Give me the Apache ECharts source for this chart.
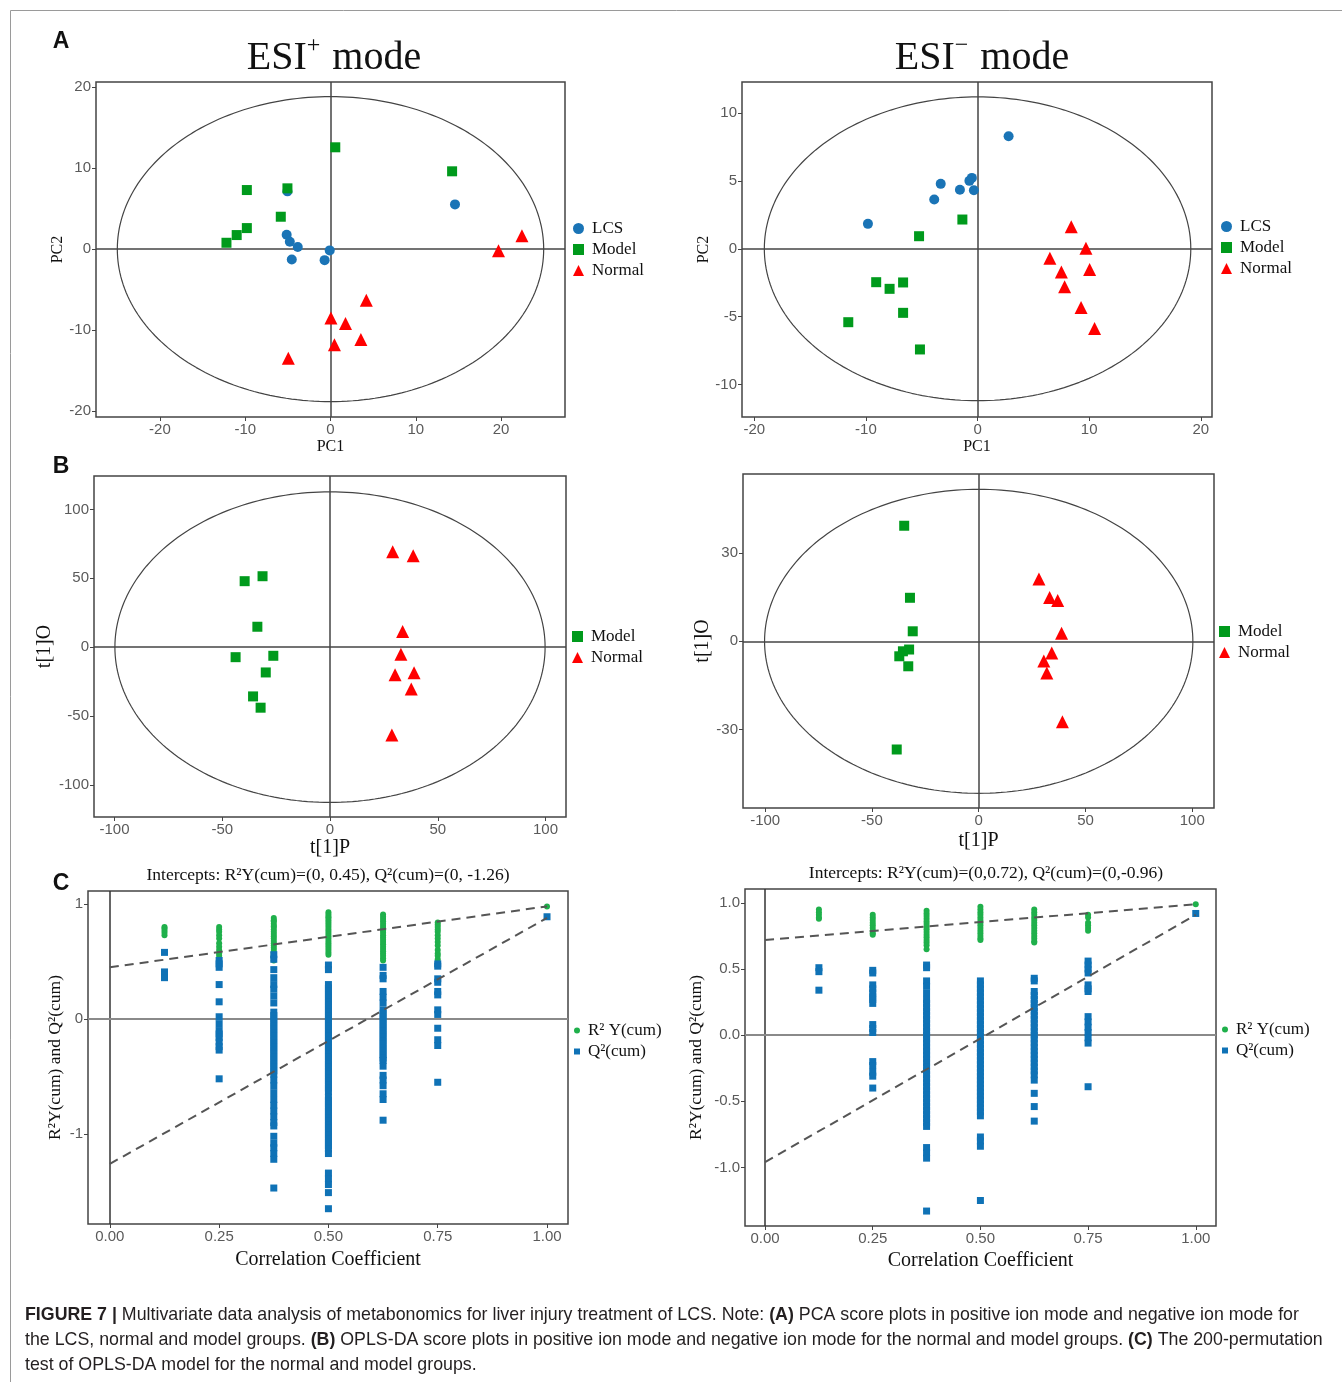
<!DOCTYPE html>
<html><head><meta charset="utf-8">
<script src="https://cdn.jsdelivr.net/npm/echarts@6/dist/echarts.min.js"></script>
<style>html,body{margin:0;padding:0;background:#fff}#c{width:1342px;height:1382px}</style>
</head><body><div id="c"></div>
<script>
// ---------- DATA ----------
// Panel A left (ESI+ PCA): [PC1, PC2]
const aPosLCS = [[-5.05,7.12],[14.6,5.51],[-5.14,1.77],[-4.77,0.91],[-3.84,0.25],[-4.54,-1.28],[-0.09,-0.16],[-0.69,-1.36]];
const aPosModel = [[0.56,12.55],[14.26,9.59],[-9.81,7.28],[-5.05,7.49],[-5.83,3.99],[-9.81,2.59],[-11.0,1.73],[-12.2,0.78]];
const aPosNormal = [[22.45,1.65],[19.7,-0.2],[4.2,-6.3],[0.05,-8.5],[1.76,-9.18],[3.56,-11.15],[0.46,-11.8],[-4.95,-13.46]];
// Panel A right (ESI- PCA)
const aNegLCS = [[2.78,8.30],[-3.30,4.79],[-1.58,4.35],[-0.51,5.23],[-0.73,5.01],[-0.33,4.32],[-3.88,3.64],[-9.82,1.84]];
const aNegModel = [[-1.36,2.16],[-5.24,0.93],[-9.08,-2.46],[-7.88,-2.95],[-6.67,-2.48],[-6.67,-4.72],[-11.58,-5.41],[-5.16,-7.42]];
const aNegNormal = [[8.39,1.62],[9.71,0.05],[6.48,-0.69],[7.51,-1.70],[10.04,-1.52],[7.80,-2.80],[9.27,-4.32],[10.48,-5.87]];
// Panel B left (ESI+ OPLS-DA): [t[1]P, t[1]O]
const bPosModel = [[-39.6,47.9],[-31.3,51.5],[-33.7,14.8],[-43.8,-7.3],[-26.3,-6.3],[-29.8,-18.4],[-35.7,-35.8],[-32.2,-44.0]];
const bPosNormal = [[29.1,69.2],[38.6,66.3],[33.7,11.4],[32.9,-5.1],[30.2,-20.1],[39.0,-18.6],[37.7,-30.5],[28.7,-63.8]];
// Panel B right (ESI- OPLS-DA)
const bNegModel = [[-34.9,39.3],[-32.2,14.8],[-30.9,3.4],[-32.6,-2.8],[-35.5,-3.4],[-37.2,-5.1],[-33.0,-8.5],[-38.4,-36.8]];
const bNegNormal = [[28.2,21.2],[33.2,14.9],[37.0,13.9],[38.8,2.7],[34.2,-4.0],[30.5,-6.7],[31.9,-10.8],[39.2,-27.4]];
// Hotelling ellipse semi-axes [a, b]
const ellipseAxes = [[25.0,18.8],[19.1,11.2],[99.8,112.8],[100.3,51.7]];
// Panel C permutation tests
const permX = [0.125,0.25,0.375,0.5,0.625,0.75,1.0];
const cLeftR2 = [
 [0.80,0.79,0.77,0.75,0.73],
 [0.80,0.78,0.76,0.73,0.70,0.66,0.63,0.60,0.57,0.55],
 [0.88,0.86,0.85,0.83,0.81,0.80,0.78,0.76,0.74,0.72,0.70,0.68,0.66,0.64,0.62,0.60,0.58,0.55,0.53,0.51],
 [0.93,0.91,0.89,0.88,0.86,0.84,0.82,0.80,0.78,0.76,0.74,0.72,0.70,0.68,0.66,0.64,0.62,0.60,0.58,0.56],
 [0.91,0.89,0.87,0.85,0.83,0.81,0.79,0.77,0.75,0.73,0.71,0.69,0.67,0.65,0.63,0.61,0.59,0.57,0.55,0.53,0.51],
 [0.84,0.82,0.80,0.78,0.76,0.73,0.70,0.67,0.64,0.60,0.57,0.55,0.52],
 [0.98]
];
const cLeftQ2 = [
 [0.58,0.41,0.38,0.36],
 [0.51,0.48,0.45,0.30,0.15,0.02,-0.04,-0.10,-0.13,-0.16,-0.20,-0.24,-0.27,-0.52],
 [0.56,0.52,0.43,0.36,0.30,0.26,0.20,0.14,0.06,0.03,0.00,-0.03,-0.06,-0.09,-0.12,-0.15,-0.18,-0.21,-0.24,-0.27,-0.30,-0.33,-0.36,-0.39,-0.42,-0.45,-0.48,-0.53,-0.58,-0.64,-0.70,-0.75,-0.80,-0.85,-0.90,-0.93,-1.02,-1.08,-1.12,-1.17,-1.22,-1.47],
 [0.47,0.43,0.30,0.27,0.24,0.21,0.18,0.15,0.12,0.09,0.06,0.03,0.00,-0.03,-0.06,-0.09,-0.12,-0.15,-0.18,-0.21,-0.24,-0.27,-0.30,-0.33,-0.36,-0.39,-0.42,-0.45,-0.48,-0.51,-0.54,-0.57,-0.60,-0.63,-0.68,-0.71,-0.74,-0.77,-0.80,-0.83,-0.86,-0.89,-0.92,-0.95,-0.98,-1.01,-1.04,-1.07,-1.10,-1.13,-1.17,-1.34,-1.39,-1.44,-1.51,-1.65],
 [0.45,0.38,0.35,0.24,0.19,0.14,0.08,0.05,0.02,-0.01,-0.04,-0.07,-0.10,-0.13,-0.16,-0.19,-0.22,-0.25,-0.28,-0.31,-0.34,-0.36,-0.41,-0.49,-0.53,-0.58,-0.65,-0.70,-0.88],
 [0.48,0.46,0.35,0.32,0.24,0.21,0.08,0.04,-0.08,-0.18,-0.23,-0.55],
 [0.89]
];
const cRightR2 = [
 [0.95,0.93,0.91,0.89,0.88],
 [0.91,0.89,0.87,0.85,0.83,0.81,0.79,0.77,0.76],
 [0.94,0.92,0.90,0.88,0.86,0.84,0.82,0.80,0.78,0.76,0.74,0.72,0.70,0.68,0.65],
 [0.97,0.95,0.93,0.91,0.89,0.87,0.85,0.83,0.81,0.79,0.77,0.75,0.73,0.72],
 [0.95,0.93,0.91,0.89,0.87,0.85,0.83,0.81,0.79,0.77,0.75,0.73,0.71,0.70],
 [0.91,0.89,0.85,0.83,0.81,0.79],
 [0.99]
];
const cRightQ2 = [
 [0.51,0.48,0.34],
 [0.49,0.47,0.38,0.35,0.32,0.29,0.27,0.24,0.08,0.05,0.02,-0.20,-0.23,-0.28,-0.31,-0.40],
 [0.53,0.51,0.41,0.37,0.32,0.27,0.24,0.21,0.18,0.15,0.12,0.09,0.06,0.03,0.00,-0.03,-0.06,-0.09,-0.12,-0.15,-0.18,-0.21,-0.24,-0.27,-0.30,-0.33,-0.36,-0.39,-0.42,-0.45,-0.48,-0.51,-0.54,-0.57,-0.60,-0.63,-0.66,-0.69,-0.85,-0.89,-0.93,-1.33],
 [0.41,0.38,0.35,0.32,0.29,0.26,0.23,0.20,0.17,0.14,0.11,0.08,0.05,0.02,-0.01,-0.04,-0.07,-0.10,-0.13,-0.16,-0.19,-0.22,-0.25,-0.28,-0.31,-0.34,-0.37,-0.40,-0.43,-0.46,-0.49,-0.52,-0.55,-0.58,-0.61,-0.77,-0.80,-0.84,-1.25],
 [0.43,0.41,0.33,0.30,0.27,0.24,0.21,0.18,0.15,0.12,0.09,0.06,0.03,0.00,-0.03,-0.06,-0.09,-0.12,-0.15,-0.18,-0.21,-0.24,-0.27,-0.30,-0.34,-0.44,-0.54,-0.65],
 [0.56,0.53,0.50,0.47,0.38,0.35,0.33,0.14,0.10,0.06,0.02,-0.02,-0.06,-0.39],
 [0.92]
];
// regression lines [value at x=0, value at x=1]
const cLeftR2Line = [0.45,0.98], cLeftQ2Line = [-1.26,0.88];
const cRightR2Line = [0.72,0.99], cRightQ2Line = [-0.96,0.91];
// tick labels
const ticksA1x=[-20,-10,0,10,20], ticksA1y=[-20,-10,0,10,20];
const ticksA2x=[-20,-10,0,10,20], ticksA2y=[-10,-5,0,5,10];
const ticksBx=[-100,-50,0,50,100], ticksB1y=[-100,-50,0,50,100], ticksB2y=[-30,0,30];
const ticksCx=[0,0.25,0.5,0.75,1.0], ticksC1y=[-1,0,1], ticksC2y=[-1.0,-0.5,0.0,0.5,1.0];

// ---------- STYLE ----------
const SERIF="'Liberation Serif','Times New Roman',serif";
const SANS="'Liberation Sans',Arial,sans-serif";
const BLUE='#1a74b6', GREEN='#009a1c', RED='#ff0000';
const CGREEN='#1fb04b', CBLUE='#0f72b6';

const grids=[
 {left:96,top:82,width:469,height:335},
 {left:742,top:82,width:470,height:335},
 {left:94,top:476,width:472,height:341},
 {left:743,top:474,width:471,height:334},
 {left:88,top:891,width:480,height:333},
 {left:745,top:889,width:471,height:337}
].map(g=>Object.assign(g,{show:true,borderColor:'#444',borderWidth:1.5,backgroundColor:'#fff'}));

function axis(gi,min,max,ticks,name,gap,size,fmt){
  return {type:'value',gridIndex:gi,min:min,max:max,
    name:name,nameLocation:'middle',nameGap:gap,
    nameTextStyle:{fontFamily:SERIF,fontSize:size,color:'#111'},
    axisLine:{show:false,onZero:false},splitLine:{show:false},
    axisTick:{show:true,length:4,lineStyle:{color:'#444'},customValues:ticks},
    axisLabel:{color:'#5a5a5a',fontFamily:SANS,fontSize:15,margin:5,customValues:ticks,formatter:fmt||(v=>String(v))}};
}
const xAxes=[
 axis(0,-27.5,27.5,ticksA1x,'PC1',22,16),
 axis(1,-21.1,21.0,ticksA2x,'PC1',22,16),
 axis(2,-109.5,109.5,ticksBx,'t[1]P',21,20),
 axis(3,-110.4,110.2,ticksBx,'t[1]P',23,20),
 axis(4,-0.05,1.048,ticksCx,'Correlation Coefficient',26,20,v=>v.toFixed(2)),
 axis(5,-0.0466,1.047,ticksCx,'Correlation Coefficient',25,20,v=>v.toFixed(2))
];
const yAxes=[
 axis(0,-20.7,20.6,ticksA1y,'PC2',22,16),
 axis(1,-12.4,12.3,ticksA2y,'PC2',23,16),
 axis(2,-123.4,124.3,ticksB1y,'t[1]O',22,20),
 axis(3,-56.7,56.9,ticksB2y,'t[1]O',23,20),
 axis(4,-1.783,1.114,ticksC1y,'R²Y(cum) and Q²(cum)',24,17.5),
 axis(5,-1.443,1.105,ticksC2y,'R²Y(cum) and Q²(cum)',40,17.5,v=>v.toFixed(1))
];

function ellipsePts(a,b){const p=[];for(let i=0;i<=240;i++){const t=i/240*2*Math.PI;p.push([a*Math.cos(t),b*Math.sin(t)]);}return p;}
function ellipseSeries(gi,ax){
  return {type:'line',xAxisIndex:gi,yAxisIndex:gi,data:ellipsePts(ax[0],ax[1]),symbol:'none',silent:true,
    lineStyle:{color:'#444',width:1.2},z:2,
    markLine:{silent:true,symbol:'none',label:{show:false},lineStyle:{color:'#444',width:1.5,type:'solid'},
      data:[{xAxis:0},{yAxis:0}]}};
}
function sc(gi,name,data,sym,size,color){
  return {type:'scatter',name:name,xAxisIndex:gi,yAxisIndex:gi,data:data,symbol:sym,symbolSize:size,
    itemStyle:{color:color,opacity:1},z:5};
}
function colPts(cols){const out=[];cols.forEach((c,i)=>c.forEach(v=>out.push([permX[i],v])));return out;}
function dashLine(gi,vals){
  return {type:'line',xAxisIndex:gi,yAxisIndex:gi,data:[[0,vals[0]],[1,vals[1]]],symbol:'none',silent:true,z:8,
    lineStyle:{color:'#555',width:2,type:[9,6]}};
}
function zeroC(gi){
  return {type:'line',xAxisIndex:gi,yAxisIndex:gi,data:[],silent:true,z:1,
    markLine:{silent:true,symbol:'none',label:{show:false},
      data:[{xAxis:0,lineStyle:{color:'#333',width:1.5,type:'solid'}},{yAxis:0,lineStyle:{color:'#8a8a8a',width:2,type:'solid'}}]}};
}

const series=[
 ellipseSeries(0,ellipseAxes[0]),
 sc(0,'LCS',aPosLCS,'circle',10,BLUE),
 sc(0,'Model',aPosModel,'rect',10,GREEN),
 sc(0,'Normal',aPosNormal,'triangle',13,RED),
 ellipseSeries(1,ellipseAxes[1]),
 sc(1,'LCS',aNegLCS,'circle',10,BLUE),
 sc(1,'Model',aNegModel,'rect',10,GREEN),
 sc(1,'Normal',aNegNormal,'triangle',13,RED),
 ellipseSeries(2,ellipseAxes[2]),
 sc(2,'Model',bPosModel,'rect',10,GREEN),
 sc(2,'Normal',bPosNormal,'triangle',13,RED),
 ellipseSeries(3,ellipseAxes[3]),
 sc(3,'Model',bNegModel,'rect',10,GREEN),
 sc(3,'Normal',bNegNormal,'triangle',13,RED),
 zeroC(4),
 sc(4,'R² Y(cum)',colPts(cLeftR2),'circle',6,CGREEN),
 sc(4,'Q²(cum)',colPts(cLeftQ2),'rect',7,CBLUE),
 dashLine(4,cLeftR2Line), dashLine(4,cLeftQ2Line),
 zeroC(5),
 sc(5,'R² Y(cum)',colPts(cRightR2),'circle',6,CGREEN),
 sc(5,'Q²(cum)',colPts(cRightQ2),'rect',7,CBLUE),
 dashLine(5,cRightR2Line), dashLine(5,cRightQ2Line)
];

function lg(names,left,top,iw){
  return {data:names,left:left,top:top,orient:'vertical',itemGap:4,itemWidth:iw,itemHeight:iw,selectedMode:false,
    textStyle:{fontFamily:SERIF,fontSize:17,color:'#111',padding:[0,0,0,3]},padding:0};
}
const legends=[
 lg(['LCS','Model','Normal'],573,220,11),
 lg(['LCS','Model','Normal'],1221,218,11),
 lg(['Model','Normal'],572,628,11),
 lg(['Model','Normal'],1219,623,11),
 lg(['R² Y(cum)','Q²(cum)'],574,1022,6),
 lg(['R² Y(cum)','Q²(cum)'],1222,1021,6)
];

function txt(x,y,text,font,size,weight,align){
  return {type:'text',x:x,y:y,style:{text:text,font:(weight||'normal')+' '+size+'px '+font,fill:'#111',
    textAlign:align||'center',textVerticalAlign:'middle'},z:20};
}
function esiTitle(x,sup){
  return {type:'text',x:x,y:56,z:20,style:{text:'{m|ESI}{s|'+sup+'}{m| mode}',textAlign:'center',textVerticalAlign:'middle',
    rich:{m:{fontFamily:SERIF,fontSize:40,fill:'#111',lineHeight:44,verticalAlign:'bottom'},
          s:{fontFamily:SERIF,fontSize:24,fill:'#111',lineHeight:44,verticalAlign:'top',padding:[0,2,18,0]}}}};
}
const CAP=SANS, CAPSZ=17.8;
const capRich={b:{fontWeight:'bold',fontFamily:CAP,fontSize:CAPSZ,fill:'#231f20'}};
const graphic=[
 {type:'rect',shape:{x:10.5,y:10.5,width:1340,height:1380},style:{fill:'none',stroke:'#9a9a9a',lineWidth:1},z:0},
 txt(61,42,'A',SANS,23,'bold'),
 txt(61,467,'B',SANS,23,'bold'),
 txt(61,884,'C',SANS,23,'bold'),
 esiTitle(334,'+'),
 esiTitle(982,'−'),
 txt(328,875,'Intercepts: R²Y(cum)=(0, 0.45), Q²(cum)=(0, -1.26)',SERIF,17.5),
 txt(986,873,'Intercepts: R²Y(cum)=(0,0.72), Q²(cum)=(0,-0.96)',SERIF,17.5),
 {type:'text',x:25,y:1315,z:20,style:{textVerticalAlign:'middle',
   text:'{b|FIGURE 7 |} Multivariate data analysis of metabonomics for liver injury treatment of LCS. Note: {b|(A)} PCA score plots in positive ion mode and negative ion mode for',
   font:CAPSZ+'px '+CAP,fill:'#231f20',rich:capRich}},
 {type:'text',x:25,y:1340,z:20,style:{textVerticalAlign:'middle',
   text:'the LCS, normal and model groups. {b|(B)} OPLS-DA score plots in positive ion mode and negative ion mode for the normal and model groups. {b|(C)} The 200-permutation',
   font:CAPSZ+'px '+CAP,fill:'#231f20',rich:capRich}},
 {type:'text',x:25,y:1365,z:20,style:{textVerticalAlign:'middle',
   text:'test of OPLS-DA model for the normal and model groups.',font:CAPSZ+'px '+CAP,fill:'#231f20'}}
];

const chart=echarts.init(document.getElementById('c'),null,{renderer:'canvas'});
chart.setOption({backgroundColor:'#fff',animation:false,grid:grids,xAxis:xAxes,yAxis:yAxes,series:series,legend:legends,graphic:graphic});
</script></body></html>
